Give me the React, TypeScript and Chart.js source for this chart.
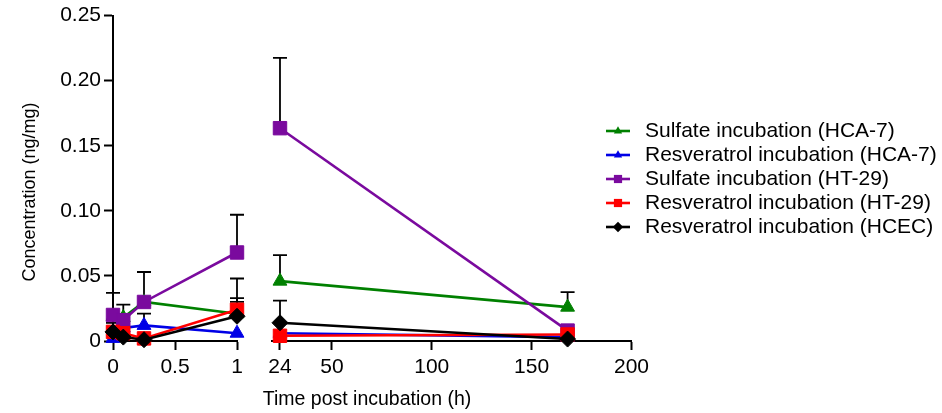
import React, { useEffect, useRef } from "react";
import { Chart, registerables } from "chart.js";

Chart.register(...registerables);

// ---------------- data ----------------
const timesH = [0, 0.083, 0.25, 1, 24, 168];
const leftPanelRange = [0, 1];
const rightPanelRange = [20, 200];
const leftTickValues = [0, 0.5, 1];
const rightTickValues = [24, 50, 100, 150, 200];
const yRange = [0, 0.25];
const yStep = 0.05;

const seriesLabels = [
  "Sulfate incubation (HCA-7)",
  "Resveratrol incubation (HCA-7)",
  "Sulfate incubation (HT-29)",
  "Resveratrol incubation (HT-29)",
  "Resveratrol incubation (HCEC)",
];

const sulfateHCA7 = [0.019, 0.018, 0.03, 0.021, 0.046, 0.026];
const sulfateHCA7Err = [0, 0, 0, 0.012, 0.02, 0.0115];
const resveratrolHCA7 = [0.002, 0.01, 0.012, 0.006, 0.006, 0.003];
const resveratrolHCA7Err = [0, 0, 0.009, 0, 0, 0];
const sulfateHT29 = [0.02, 0.016, 0.03, 0.068, 0.1635, 0.008];
const sulfateHT29Err = [0.017, 0.012, 0.023, 0.029, 0.054, 0];
const resveratrolHT29 = [0.007, 0.006, 0.002, 0.024, 0.004, 0.005];
const resveratrolHT29Err = [0, 0, 0, 0.024, 0, 0];
const resveratrolHCEC = [0.007, 0.003, 0.001, 0.019, 0.014, 0.0015];
const resveratrolHCECErr = [0.007, 0, 0, 0.011, 0.017, 0];

const xTitle = "Time post incubation (h)";
const yTitle = "Concentration (ng/mg)";

// ---------------- styles ----------------
const FONT = "'Liberation Sans', Arial, sans-serif";
const seriesValues = [sulfateHCA7, resveratrolHCA7, sulfateHT29, resveratrolHT29, resveratrolHCEC];
const seriesErrors = [sulfateHCA7Err, resveratrolHCA7Err, sulfateHT29Err, resveratrolHT29Err, resveratrolHCECErr];
const seriesColors = ["#008000", "#0000e6", "#7a0a9e", "#ff0000", "#000000"];
const seriesMarkers = ["triangle", "triangle", "rect", "rect", "rectRot"];
const seriesRadius = [8, 8, 9.5, 9.5, 8];
const legendRadius = [4.8, 4.8, 5.8, 5.8, 5.2];

function drawMarker(ctx: CanvasRenderingContext2D, style: string, x: number, y: number, r: number, color: string) {
  ctx.beginPath();
  if (style === "triangle") {
    ctx.moveTo(x, y - r);
    ctx.lineTo(x + r * Math.sin((2 * Math.PI) / 3), y - r * Math.cos((2 * Math.PI) / 3));
    ctx.lineTo(x + r * Math.sin((4 * Math.PI) / 3), y - r * Math.cos((4 * Math.PI) / 3));
  } else if (style === "rect") {
    const s = r * Math.SQRT1_2;
    ctx.rect(x - s, y - s, 2 * s, 2 * s);
  } else {
    ctx.moveTo(x, y - r);
    ctx.lineTo(x + r, y);
    ctx.lineTo(x, y + r);
    ctx.lineTo(x - r, y);
  }
  ctx.closePath();
  ctx.fillStyle = color;
  ctx.fill();
}

function buildDatasets() {
  const out: any[] = [];
  seriesLabels.forEach((label, si) => {
    const left: any[] = [];
    const right: any[] = [];
    const leftErr: number[] = [];
    const rightErr: number[] = [];
    timesH.forEach((t, i) => {
      if (t <= leftPanelRange[1]) {
        left.push({ x: t, y: seriesValues[si][i] });
        leftErr.push(seriesErrors[si][i]);
      } else {
        right.push({ x: t, y: seriesValues[si][i] });
        rightErr.push(seriesErrors[si][i]);
      }
    });
    const common = {
      label,
      borderColor: seriesColors[si],
      backgroundColor: seriesColors[si],
      pointBackgroundColor: seriesColors[si],
      pointBorderColor: seriesColors[si],
      pointStyle: seriesMarkers[si],
      pointRadius: seriesRadius[si],
      pointHoverRadius: seriesRadius[si],
      pointBorderWidth: 1,
      borderWidth: 2.6,
      fill: false,
      tension: 0,
      clip: false,
      order: seriesLabels.length - si,
      yAxisID: "y",
    };
    out.push({ ...common, data: left, xAxisID: "xL", errors: leftErr });
    out.push({ ...common, data: right, xAxisID: "xR", errors: rightErr });
  });
  return out;
}

const errorBarPlugin = {
  id: "errorBars",
  beforeDatasetsDraw(chart: any) {
    const ctx = chart.ctx;
    ctx.save();
    ctx.strokeStyle = "#000";
    ctx.lineWidth = 1.8;
    chart.data.datasets.forEach((ds: any) => {
      const xs = chart.scales[ds.xAxisID];
      const ys = chart.scales.y;
      ds.data.forEach((p: any, i: number) => {
        const e = ds.errors[i];
        if (!e) return;
        const x = xs.getPixelForValue(p.x);
        const y0 = ys.getPixelForValue(p.y);
        const y1 = ys.getPixelForValue(p.y + e);
        ctx.beginPath();
        ctx.moveTo(x, y0);
        ctx.lineTo(x, y1);
        ctx.moveTo(x - 7, y1);
        ctx.lineTo(x + 7, y1);
        ctx.stroke();
      });
    });
    ctx.restore();
  },
};

const LEGEND_X = 606;
const LEGEND_Y = 131;
const LEGEND_STEP = 24;
const Y_TITLE_POS = { x: 30, y: 192 };
const X_TITLE_POS = { x: 367, y: 400 };

const legendPlugin = {
  id: "sideLegend",
  afterDraw(chart: any) {
    const ctx = chart.ctx as CanvasRenderingContext2D;
    ctx.save();
    ctx.font = `21px ${FONT}`;
    ctx.textBaseline = "middle";
    ctx.textAlign = "left";
    seriesLabels.forEach((label, i) => {
      const y = LEGEND_Y + i * LEGEND_STEP;
      ctx.strokeStyle = seriesColors[i];
      ctx.lineWidth = 2.6;
      ctx.beginPath();
      ctx.moveTo(LEGEND_X, y);
      ctx.lineTo(LEGEND_X + 24, y);
      ctx.stroke();
      drawMarker(ctx, seriesMarkers[i], LEGEND_X + 12, y, legendRadius[i], seriesColors[i]);
      ctx.fillStyle = "#000";
      ctx.fillText(label, LEGEND_X + 39, y);
    });
    ctx.restore();
  },
};

const axisTitlePlugin = {
  id: "axisTitles",
  afterDraw(chart: any) {
    const ctx = chart.ctx as CanvasRenderingContext2D;
    ctx.save();
    ctx.fillStyle = "#000";
    ctx.textAlign = "center";
    ctx.textBaseline = "middle";
    ctx.font = `19.5px ${FONT}`;
    ctx.fillText(xTitle, X_TITLE_POS.x, X_TITLE_POS.y);
    ctx.translate(Y_TITLE_POS.x, Y_TITLE_POS.y);
    ctx.rotate(-Math.PI / 2);
    ctx.font = `18px ${FONT}`;
    ctx.fillText(yTitle, 0, 0);
    ctx.restore();
  },
};

const axisGrid = {
  display: true,
  drawOnChartArea: false,
  drawTicks: true,
  tickLength: 9,
  tickWidth: 2,
  tickColor: "#000",
};
const axisBorder = { display: true, color: "#000", width: 2 };
const tickFont = { family: FONT, size: 21 };
const plainLabel = (v: any) => String(Number(v));

export default function App() {
  const canvasRef = useRef<HTMLCanvasElement | null>(null);

  useEffect(() => {
    if (!canvasRef.current) return;
    const chart = new Chart(canvasRef.current, {
      type: "line",
      data: { datasets: buildDatasets() },
      plugins: [errorBarPlugin, legendPlugin, axisTitlePlugin],
      options: {
        animation: false,
        responsive: true,
        maintainAspectRatio: false,
        layout: { padding: { left: 8, top: 14, right: 310.5, bottom: 34 } },
        plugins: { legend: { display: false }, tooltip: { enabled: false } },
        scales: {
          xL: {
            type: "linear",
            axis: "x",
            position: "bottom",
            stack: "xbreak",
            stackWeight: 124,
            min: leftPanelRange[0],
            max: leftPanelRange[1],
            grid: axisGrid,
            border: axisBorder,
            afterBuildTicks: (s: any) => {
              s.ticks = leftTickValues.map((v) => ({ value: v }));
            },
            afterFit: (s: any) => {
              s.height = 38;
            },
            ticks: { color: "#000", font: tickFont, padding: 5, maxRotation: 0, autoSkip: false, callback: plainLabel },
          },
          xGap: {
            type: "linear",
            axis: "x",
            position: "bottom",
            stack: "xbreak",
            stackWeight: 35,
            grid: { display: false },
            border: { display: false },
            ticks: { display: false },
            afterFit: (s: any) => {
              s.height = 38;
            },
          },
          xR: {
            type: "linear",
            axis: "x",
            position: "bottom",
            stack: "xbreak",
            stackWeight: 359.5,
            min: rightPanelRange[0],
            max: rightPanelRange[1],
            grid: axisGrid,
            border: axisBorder,
            afterBuildTicks: (s: any) => {
              s.ticks = rightTickValues.map((v) => ({ value: v }));
            },
            afterFit: (s: any) => {
              s.height = 38;
            },
            ticks: { color: "#000", font: tickFont, padding: 5, maxRotation: 0, autoSkip: false, callback: plainLabel },
          },
          y: {
            type: "linear",
            position: "left",
            min: yRange[0],
            max: yRange[1],
            grid: axisGrid,
            border: axisBorder,
            ticks: {
              stepSize: yStep,
              color: "#000",
              font: tickFont,
              padding: 3,
              callback: (v: any) => (Number(v) === 0 ? "0" : Number(v).toFixed(2)),
            },
            afterFit: (s: any) => {
              s.width = 105;
            },
          },
        },
      } as any,
    });
    return () => chart.destroy();
  }, []);

  return (
    <div style={{ position: "absolute", left: 0, top: 0, width: 942, height: 413 }}>
      <canvas ref={canvasRef} />
    </div>
  );
}
